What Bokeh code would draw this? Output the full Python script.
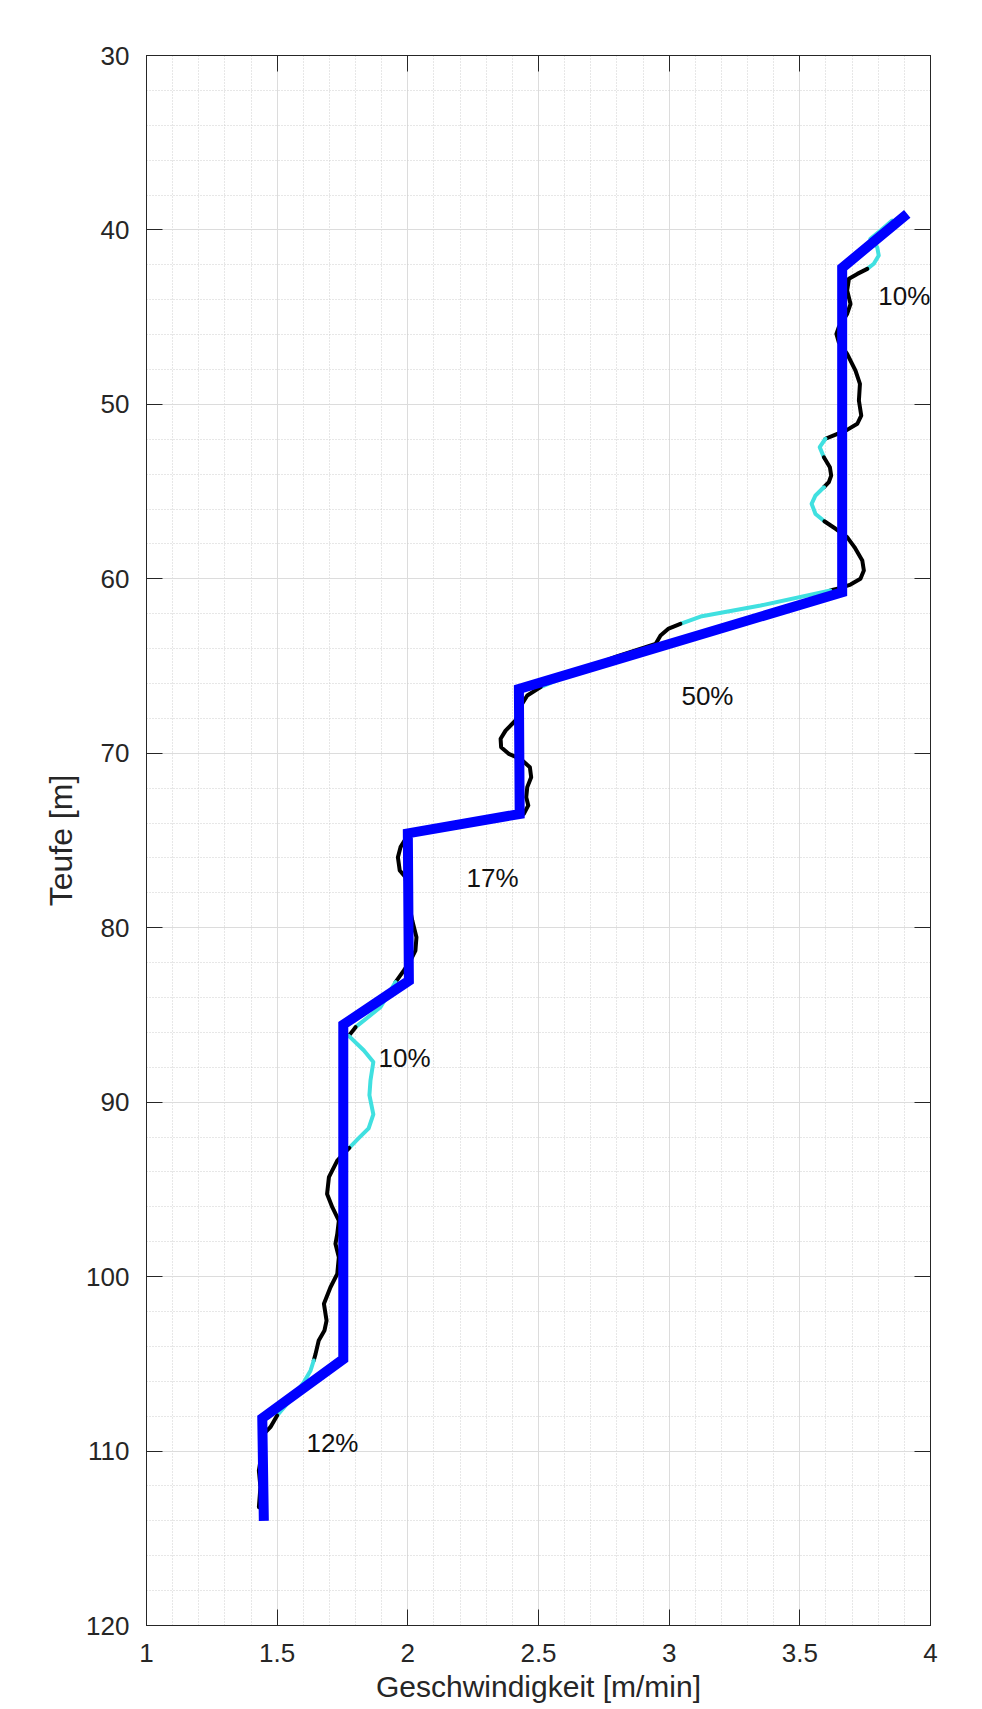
from bokeh.plotting import figure
from bokeh.models import Range1d, LinearAxis, FixedTicker
from bokeh.embed import file_html
from bokeh.resources import INLINE
from bokeh.core.properties import value

# ---------------- data ----------------
# fitted (blue) piecewise line: speed [m/min] vs depth [m]
fit_speed = [3.911, 3.662, 3.662, 2.425, 2.428, 2.000, 2.004, 1.753, 1.753, 1.443, 1.449]
fit_depth = [39.08, 42.17, 60.77, 66.31, 73.48, 74.59, 83.04, 85.56, 104.73, 108.12, 114.0]

# measured curve
meas_speed = [3.853, 3.809, 3.770, 3.796, 3.802, 3.783, 3.758, 3.720, 3.688, 3.681,
              3.694, 3.681, 3.649, 3.640, 3.649, 3.681, 3.713, 3.730, 3.726, 3.735,
              3.720, 3.681, 3.630, 3.598, 3.576, 3.592, 3.615, 3.620, 3.611, 3.592,
              3.560, 3.545, 3.560, 3.594, 3.637, 3.681, 3.709, 3.739, 3.745, 3.732,
              3.694, 3.656, 3.617, 3.350, 3.120, 3.043, 2.998, 2.967, 2.948, 2.800,
              2.650, 2.508, 2.457, 2.437, 2.412, 2.374, 2.355, 2.357, 2.386, 2.431,
              2.467, 2.472, 2.457, 2.453, 2.461, 2.444, 2.200, 2.000, 1.972, 1.962,
              1.969, 1.991, 2.000, 2.017, 2.033, 2.029, 2.010, 1.985, 1.953, 1.895,
              1.800, 1.774, 1.832, 1.868, 1.857, 1.853, 1.868, 1.850, 1.813, 1.776,
              1.730, 1.698, 1.691, 1.711, 1.736, 1.730, 1.723, 1.736, 1.730, 1.704,
              1.679, 1.689, 1.681, 1.659, 1.647, 1.640, 1.628, 1.602, 1.560, 1.500,
              1.474, 1.449, 1.436, 1.440, 1.430, 1.436, 1.430, 1.430]
meas_depth = [39.46, 40.03, 40.51, 40.99, 41.47, 41.94, 42.23, 42.52, 42.80, 43.47,
              44.24, 44.81, 45.58, 45.96, 46.43, 47.10, 48.06, 48.82, 49.78, 50.64,
              51.11, 51.46, 51.78, 51.97, 52.45, 53.03, 53.60, 54.08, 54.46, 54.75,
              55.22, 55.70, 56.28, 56.70, 57.13, 57.61, 58.18, 58.95, 59.52, 60.00,
              60.33, 60.52, 60.67, 61.53, 62.16, 62.58, 62.85, 63.25, 63.73, 64.45,
              65.30, 66.21, 66.69, 67.17, 68.12, 68.70, 69.17, 69.65, 70.03, 70.32,
              70.80, 71.37, 71.94, 72.52, 72.99, 73.47, 74.05, 74.70, 75.38, 75.96,
              76.72, 77.10, 78.30, 79.59, 80.54, 81.31, 81.88, 82.45, 83.12, 84.56,
              85.70, 86.20, 87.04, 87.70, 88.76, 89.60, 90.70, 91.50, 92.05, 92.62,
              93.35, 94.30, 95.26, 96.02, 96.79, 97.55, 98.12, 98.89, 99.84, 100.61,
              101.56, 102.52, 103.09, 103.66, 104.43, 104.81, 105.38, 106.05, 106.90, 107.96,
              108.63, 109.02, 109.40, 110.20, 111.12, 112.07, 113.22, 113.98]
# class of each segment between consecutive measured points: k = black, c = cyan
meas_class = list("cccccc" + "k" * 17 + "cc" + "kkkk" + "cccc" + "k" * 9 + "ccc"
                  + "k" * 5 + "c" + "k" * 27 + "cc" + "k" + "c" * 8 + "k" * 16
                  + "cccc" + "k" * 7)

pct_labels = ["10%", "50%", "17%", "10%", "12%"]
pct_speed = [3.80, 3.047, 2.2245, 1.888, 1.612]
pct_depth = [43.76, 66.70, 77.13, 87.45, 109.53]

x_ticks = [1, 1.5, 2, 2.5, 3, 3.5, 4]
x_minor = [round(1 + 0.1 * i, 1) for i in range(31)]
y_ticks = [30, 40, 50, 60, 70, 80, 90, 100, 110, 120]
y_minor = list(range(30, 121, 2))

# ---------------- figure ----------------
FONT = "Liberation Sans"
AX = "#262626"

p = figure(width=982, height=1709, output_backend="svg", toolbar_location=None,
           x_range=Range1d(1, 4), y_range=Range1d(120, 30),
           min_border_left=146, min_border_right=52, min_border_top=55, min_border_bottom=84,
           background_fill_color="white", border_fill_color="white")
p.outline_line_color = AX
p.outline_line_width = 1

xt = FixedTicker(ticks=x_ticks, minor_ticks=x_minor)
yt = FixedTicker(ticks=y_ticks, minor_ticks=y_minor)
p.xaxis.ticker = xt
p.yaxis.ticker = yt
p.xgrid.ticker = xt
p.ygrid.ticker = yt

for g in (p.xgrid, p.ygrid):
    g.grid_line_color = "#dcdcdc"
    g.grid_line_width = 1
    g.minor_grid_line_color = "#cfcfcf"
    g.minor_grid_line_dash = "1 2"
    g.minor_grid_line_width = 1

def style_axis(ax):
    ax.axis_line_color = AX
    ax.major_tick_line_color = AX
    ax.major_tick_in = 16
    ax.major_tick_out = 0
    ax.minor_tick_line_color = None
    ax.major_label_text_font = FONT
    ax.major_label_text_font_size = "26px"
    ax.major_label_text_color = AX
    ax.axis_label_text_font = FONT
    ax.axis_label_text_font_size = "30px"
    ax.axis_label_text_font_style = "normal"
    ax.axis_label_text_color = AX

style_axis(p.xaxis[0])
style_axis(p.yaxis[0])
p.xaxis.axis_label = "Geschwindigkeit [m/min]"
p.yaxis.axis_label = "Teufe [m]"
p.yaxis.axis_label_text_font_size = "32px"
p.xaxis.major_label_standoff = 14
p.yaxis.major_label_standoff = 13
p.xaxis.axis_label_standoff = 5
p.yaxis.axis_label_standoff = 4

top_ax = LinearAxis(ticker=xt, major_label_overrides={t: "" for t in x_ticks})
right_ax = LinearAxis(ticker=yt, major_label_overrides={t: "" for t in y_ticks})
for ax in (top_ax, right_ax):
    style_axis(ax)
    ax.major_label_standoff = 0
p.add_layout(top_ax, "above")
p.add_layout(right_ax, "right")

# measured curve split into colour runs
colors = {"k": "#000000", "c": "#40e0e0"}
xs, ys, cs = [], [], []
run = [0]
cur = meas_class[0]
for i, cl in enumerate(meas_class):
    if cl != cur:
        xs.append([meas_speed[j] for j in run]); ys.append([meas_depth[j] for j in run]); cs.append(colors[cur])
        run = [i]
        cur = cl
    run.append(i + 1)
xs.append([meas_speed[j] for j in run]); ys.append([meas_depth[j] for j in run]); cs.append(colors[cur])

p.multi_line(xs=xs, ys=ys, line_color=cs, line_width=4, line_join="round", line_cap="round")
p.line(fit_speed, fit_depth, line_color="#0000ff", line_width=10, line_join="miter")

p.text(x=pct_speed, y=pct_depth, text=pct_labels, text_font=value(FONT), text_font_size="26px",
       text_baseline="middle", text_align="left", text_color="#111111")

open("out.html", "w").write(file_html(p, INLINE))
